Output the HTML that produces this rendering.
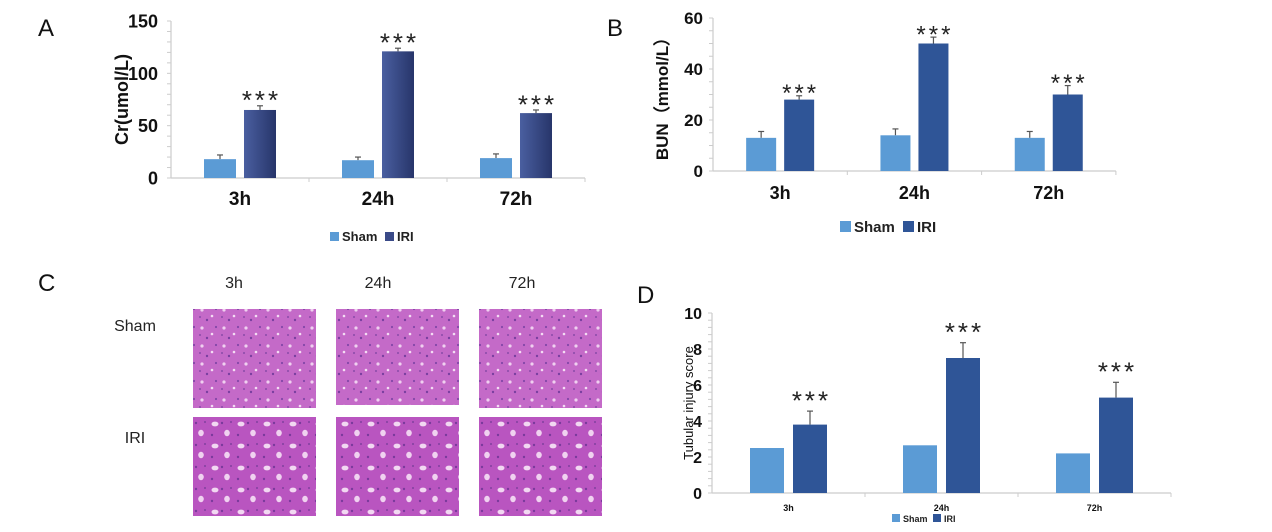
<!DOCTYPE html>
<html><head><meta charset="utf-8"><style>
body{margin:0;background:#fff;width:1272px;height:527px;overflow:hidden;font-family:"Liberation Sans",sans-serif}
svg text{font-family:"Liberation Sans",sans-serif}
</style></head><body>
<svg id="fig" width="1272" height="527" viewBox="0 0 1272 527" xmlns="http://www.w3.org/2000/svg">
<defs>
<linearGradient id="iriA" x1="0" x2="1" y1="0" y2="0"><stop offset="0" stop-color="#4a5fa0"/><stop offset="1" stop-color="#27356a"/></linearGradient>
<pattern id="tissueN" width="22" height="18" patternUnits="userSpaceOnUse">
<rect width="22" height="18" fill="#c46ac8"/>
<circle cx="4" cy="4" r="1.6" fill="#f0d0f0"/><circle cx="14" cy="10" r="1.3" fill="#f4dcf4"/>
<circle cx="9" cy="14" r="1.2" fill="#7a3fa0"/><circle cx="18" cy="3" r="1.1" fill="#8346a8"/><circle cx="2" cy="11" r="1" fill="#8a4aa8"/>
</pattern>
<pattern id="tissueI" width="26" height="22" patternUnits="userSpaceOnUse">
<rect width="26" height="22" fill="#b955c0"/>
<ellipse cx="7" cy="6" rx="3.5" ry="2.4" fill="#f2d8f2"/><ellipse cx="19" cy="15" rx="2.8" ry="3.2" fill="#f0d2f0"/>
<circle cx="14" cy="5" r="1.2" fill="#7a3a9c"/><circle cx="4" cy="17" r="1.2" fill="#7a3a9c"/><circle cx="23" cy="4" r="1" fill="#82409f"/>
</pattern>
</defs>
<g font-size="24" fill="#111">
<text x="38" y="36">A</text>
<text x="607" y="36">B</text>
<text x="38" y="291">C</text>
<text x="637" y="303">D</text>
</g>
<g id="panelC" font-size="16" fill="#222">
<text x="234" y="288" text-anchor="middle">3h</text>
<text x="378" y="288" text-anchor="middle">24h</text>
<text x="522" y="288" text-anchor="middle">72h</text>
<text x="135" y="331" text-anchor="middle">Sham</text>
<text x="135" y="443" text-anchor="middle">IRI</text>
<rect x="193" y="309" width="123" height="99" fill="url(#tissueN)"/>
<rect x="336" y="309" width="123" height="96" fill="url(#tissueN)"/>
<rect x="479" y="309" width="123" height="99" fill="url(#tissueN)"/>
<rect x="193" y="417" width="123" height="99" fill="url(#tissueI)"/>
<rect x="336" y="417" width="123" height="99" fill="url(#tissueI)"/>
<rect x="479" y="417" width="123" height="99" fill="url(#tissueI)"/>
</g>
</svg>
<script>
const categories = ["3h","24h","72h"];
const crSham = [18,17,19];
const crShamErr = [4,3,4];
const crIri = [65,121,62];
const crIriErr = [4,3,3];
const crTicks = [0,50,100,150];
const bunSham = [13,14,13];
const bunShamErr = [2.5,2.5,2.5];
const bunIri = [28,50,30];
const bunIriErr = [1.5,2.5,3.5];
const bunTicks = [0,20,40,60];
const tisSham = [2.5,2.65,2.2];
const tisShamErr = [0,0,0];
const tisIri = [3.8,7.5,5.3];
const tisIriErr = [0.75,0.85,0.85];
const tisTicks = [0,2,4,6,8,10];
const NS = "http://www.w3.org/2000/svg";
const svg = document.getElementById('fig');
function mk(tag, attrs, parent, txt){const e=document.createElementNS(NS,tag);for(const k in attrs)e.setAttribute(k,attrs[k]);if(txt!==undefined)e.textContent=txt;(parent||svg).appendChild(e);return e;}

function chart(o){
  const g = mk('g',{});
  
  
  const max=o.ticks[o.ticks.length-1];
  const y=v=>o.y0-(v/max)*(o.y0-o.yTop);
  const gw=o.gw;
  const xR=o.x0+gw*o.cats.length;
  const cx=i=>o.x0+gw*(i+0.5);
  const step=o.ticks[1]-o.ticks[0];
  for(let v=0; v<=max+1e-9; v+=step/o.minor){
    const t=mk('line',{x1:o.x0-4,x2:o.x0,y1:y(v),y2:y(v),stroke:'#ccc','stroke-width':1},g);
    
    
  }
  const ax=mk('line',{x1:o.x0,x2:o.x0,y1:o.yTop,y2:o.y0,stroke:'#ccc','stroke-width':1.2},g);
  
  
  const xa=mk('line',{x1:o.x0,x2:xR,y1:o.y0,y2:o.y0,stroke:'#ccc','stroke-width':1.2},g);
  
  
  for(let i=1;i<=o.cats.length;i++){
    const t=mk('line',{x1:o.x0+gw*i,x2:o.x0+gw*i,y1:o.y0,y2:o.y0+4,stroke:'#ccc'},g);
    
    
  }
  o.ticks.forEach(v=>{
    const t=mk('text',{x:o.x0-o.tickPad,y:y(v)+o.tickFs*0.36,'text-anchor':'end','font-size':o.tickFs,'font-weight':'bold',fill:'#111'},g,String(v));
    
    
  });
  const ttl=mk('text',{x:0,y:0,transform:`translate(${o.titleX},${(o.y0+o.yTop)/2}) rotate(-90)`,'text-anchor':'middle','font-size':o.titleFs,'font-weight':o.titleW,fill:'#111'},g,o.title);
  
  
  o.cats.forEach((c,i)=>{
    const l=mk('text',{x:cx(i),y:o.catY,'text-anchor':'middle','font-size':o.catFs,'font-weight':'bold',fill:'#111'},g,c);
    
    
    const xs=cx(i)-o.gap/2-o.bw, xi=cx(i)+o.gap/2;
    [[xs,o.sham[i],o.shamErr[i],'#5b9bd5','bar-sham-'+c],[xi,o.iri[i],o.iriErr[i],o.iriFill,'bar-iri-'+c]].forEach(([bx,v,e,f,nm])=>{
      if(e>0){
        const el=mk('line',{x1:bx+o.bw/2,x2:bx+o.bw/2,y1:y(v),y2:y(v+e),stroke:'#555','stroke-width':1.2},g);
        
        
        const ec=mk('line',{x1:bx+o.bw/2-3,x2:bx+o.bw/2+3,y1:y(v+e),y2:y(v+e),stroke:'#555','stroke-width':1.2},g);
        
        
      }
      const r=mk('rect',{x:bx,y:y(v),width:o.bw,height:y(0)-y(v),fill:f},g);
      
      
    });
    const top=y(o.iri[i]+o.iriErr[i]);
    const s=mk('text',{x:xi+o.bw/2+1.5,y:top-o.starGap+o.starFs*0.55,'text-anchor':'middle','font-size':o.starFs,fill:'#222','letter-spacing':'3'},g,'***');
    
    
  });
  const lg=mk('g',{},g);
  
  
  const L=o.leg;
  const s1=mk('rect',{x:L.x,y:L.y-L.sq,width:L.sq,height:L.sq,fill:'#5b9bd5'},lg);
  
  
  const t1=mk('text',{x:L.x+L.sq+3,y:L.y,'font-size':L.fs,'font-weight':'bold',fill:'#222'},lg,'Sham');
  
  
  const s2=mk('rect',{x:L.x2,y:L.y-L.sq,width:L.sq,height:L.sq,fill:o.iriSw},lg);
  
  
  const t2=mk('text',{x:L.x2+L.sq+3,y:L.y,'font-size':L.fs,'font-weight':'bold',fill:'#222'},lg,'IRI');
  
  
}
chart({name:'cr-chart',cats:categories,sham:crSham,shamErr:crShamErr,iri:crIri,iriErr:crIriErr,ticks:crTicks,minor:5,
  x0:171,gw:138,y0:178,yTop:21,bw:32,gap:8,iriFill:'url(#iriA)',iriSw:'#3a4a88',tickFs:18,tickPad:13,
  title:'Cr(umol/L)',titleX:128,titleFs:18,titleW:'bold',catY:205,catFs:19,starFs:26,starGap:11,
  leg:{x:330,x2:385,y:241,sq:9,fs:13}});
chart({name:'bun-chart',cats:categories,sham:bunSham,shamErr:bunShamErr,iri:bunIri,iriErr:bunIriErr,ticks:bunTicks,minor:4,
  x0:713,gw:134.3,y0:171,yTop:18,bw:30,gap:8,iriFill:'#2f5597',iriSw:'#2f5597',tickFs:17,tickPad:10,
  title:'BUN（mmol/L）',titleX:668,titleFs:17,titleW:'bold',catY:199,catFs:18,starFs:24,starGap:8,
  leg:{x:840,x2:903,y:232,sq:11,fs:15}});
chart({name:'tubular-injury-chart',cats:categories,sham:tisSham,shamErr:tisShamErr,iri:tisIri,iriErr:tisIriErr,ticks:tisTicks,minor:5,
  x0:712,gw:153,y0:493,yTop:313,bw:34,gap:9,iriFill:'#2f5597',iriSw:'#2f5597',tickFs:16,tickPad:10,
  title:'Tubular injury score',titleX:693,titleFs:13,titleW:'normal',catY:511,catFs:9,starFs:26,starGap:16,
  leg:{x:892,x2:933,y:522,sq:8,fs:9}});
</script>
</body></html>
